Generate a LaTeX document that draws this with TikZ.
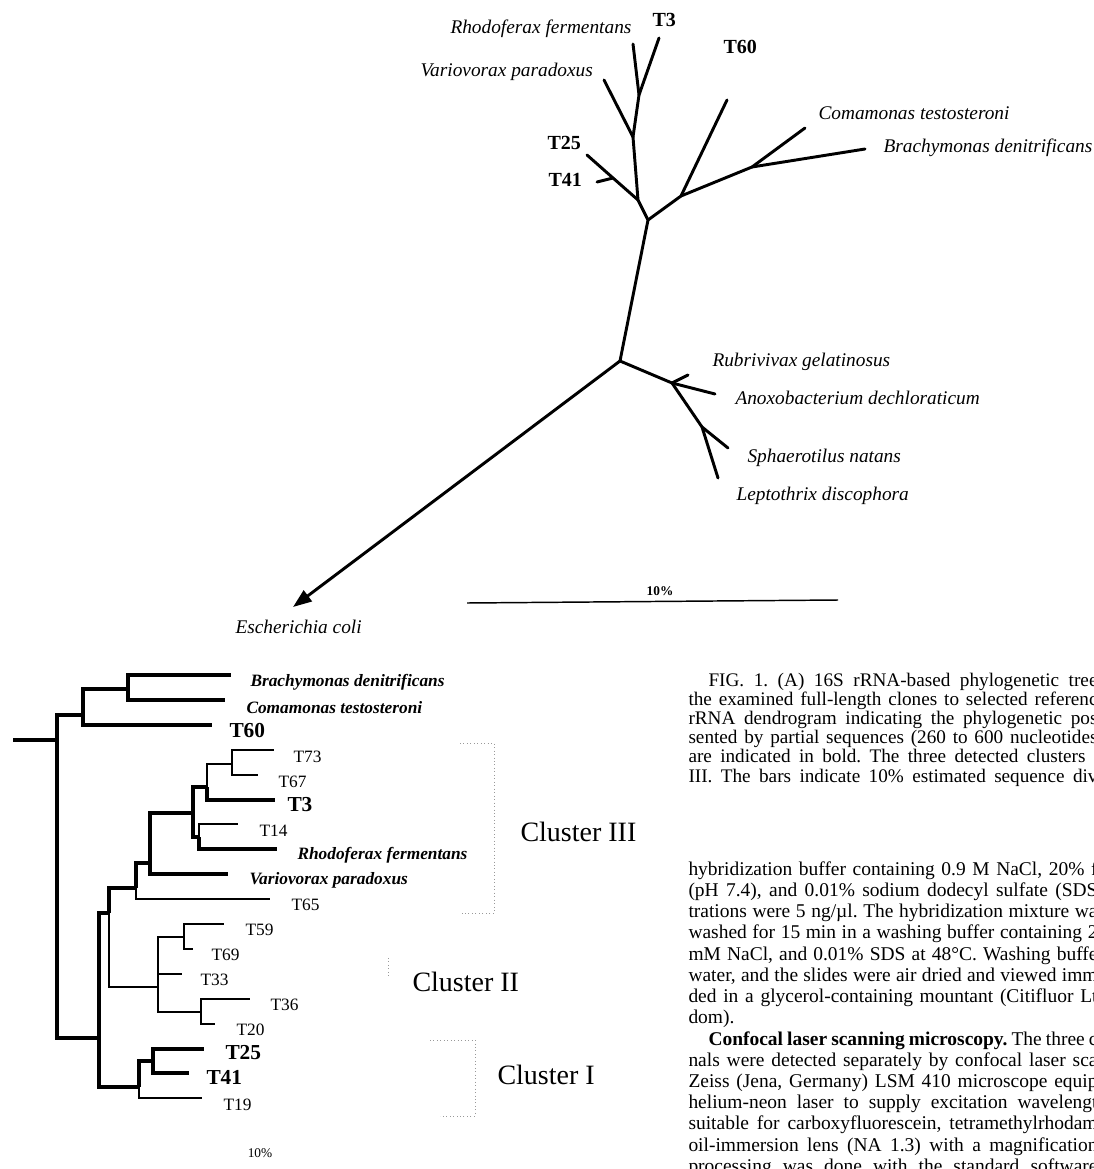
\documentclass[tikz,border=0pt]{standalone}
\usepackage{fontspec}
\setmainfont{Liberation Serif}
\usetikzlibrary{arrows.meta}

\tikzset{every picture/.style={line width=0.75pt}}
\tikzset{
  treeedge/.style={line width=2.2pt,line cap=round,line join=round},
  heavy/.style={line width=2.6pt},
  fine/.style={line width=0.8pt},
  medium/.style={line width=1.4pt},
  taxon/.style={inner sep=0pt,anchor=west,font=\fontsize{14.5}{17}\selectfont\itshape},
  clonelbl/.style={inner sep=0pt,anchor=west,font=\fontsize{15}{18}\selectfont\bfseries},
  reftaxon/.style={inner sep=0pt,anchor=west,font=\fontsize{13}{15}\selectfont\bfseries\itshape},
  seqlbl/.style={inner sep=0pt,anchor=west,font=\fontsize{13}{15}\selectfont},
  boldseq/.style={inner sep=0pt,anchor=west,font=\fontsize{16}{19}\selectfont\bfseries},
  clusterlbl/.style={inner sep=0pt,anchor=west,font=\fontsize{21}{25}\selectfont},
  bracket/.style={dash pattern=on 0.6pt off 2pt,line width=0.6pt,draw=black!40},
  capline/.style={inner sep=0pt,anchor=base west,font=\fontsize{14.4}{17}\selectfont\frenchspacing},
  textline/.style={inner sep=0pt,anchor=base west,font=\fontsize{14.6}{18}\selectfont\frenchspacing},
}
\newcommand{\fitline}[2]{\makebox[#1][s]{#2}}

\begin{document}
\begin{tikzpicture}[x=0.75pt,y=0.75pt,yscale=-1,xscale=1]
\useasboundingbox (0,0) rectangle (1093,1169);

%Unrooted tree: inner points
\coordinate (rootA) at (620,361);
\coordinate (nB) at (648,220);
\coordinate (nE) at (638,200);
\coordinate (nF) at (633,137);
\coordinate (nG) at (639,95);
\coordinate (nH) at (613,178);
\coordinate (nI) at (681,196);
\coordinate (nJ) at (752,167);
\coordinate (nC) at (672,383);
\coordinate (nD) at (702,427);
%Unrooted tree: tips
\coordinate (tRho) at (633,44);
\coordinate (tT3) at (659,38);
\coordinate (tVar) at (604,80);
\coordinate (tT25) at (587,155);
\coordinate (tT41) at (597,182);
\coordinate (tT60) at (727,100);
\coordinate (tCom) at (805,128);
\coordinate (tBra) at (865,149);
\coordinate (tRub) at (688,375);
\coordinate (tAno) at (715,394);
\coordinate (tSph) at (728,448);
\coordinate (tLep) at (718,478);
\coordinate (tEco) at (293,607);

%Straight Lines
\draw [treeedge] (rootA) -- (nB) -- (nE) -- (nF) -- (nG) -- (tRho) ;
\draw [treeedge] (nG) -- (tT3) ;
\draw [treeedge] (nF) -- (tVar) ;
\draw [treeedge] (nE) -- (nH) -- (tT25) ;
\draw [treeedge] (nH) -- (tT41) ;
\draw [treeedge] (nB) -- (nI) -- (tT60) ;
\draw [treeedge] (nI) -- (nJ) -- (tCom) ;
\draw [treeedge] (nJ) -- (tBra) ;
\draw [treeedge] (rootA) -- (nC) -- (tAno) ;
\draw [treeedge] (nC) -- (tRub) ;
\draw [treeedge] (nC) -- (nD) -- (tLep) ;
\draw [treeedge] (nD) -- (tSph) ;
%Arrow to the outgroup
\draw [treeedge,-{Triangle[length=14pt,width=10pt]}] (rootA) -- (tEco) ;

%Scale bar
\coordinate (barL) at (467,603);
\coordinate (barR) at (838,600);
\draw [line width=1.1pt] (barL) -- (barR) ;

% Text Node
\node [taxon] (lbRho) at (450,29) {Rhodoferax fermentans};
% Text Node
\node [clonelbl] (lbT3) at (652,20) {T3};
% Text Node
\node [taxon] (lbVar) at (420,72) {Variovorax paradoxus};
% Text Node
\node [clonelbl] (lbT60) at (723,47) {T60};
% Text Node
\node [taxon] (lbCom) at (818,113) {Comamonas testosteroni};
% Text Node
\node [taxon] (lbBra) at (883,148) {Brachymonas denitrificans};
% Text Node
\node [clonelbl] (lbT25) at (547,143) {T25};
% Text Node
\node [clonelbl] (lbT41) at (548,180) {T41};
% Text Node
\node [taxon] (lbRub) at (712,362) {Rubrivivax gelatinosus};
% Text Node
\node [taxon] (lbAno) at (735,398) {Anoxobacterium dechloraticum};
% Text Node
\node [taxon] (lbSph) at (747,458) {Sphaerotilus natans};
% Text Node
\node [taxon] (lbLep) at (736,496) {Leptothrix discophora};
% Text Node
\node [taxon] (lbEco) at (235,627) {Escherichia coli};
% Text Node
\node [inner sep=0pt,font=\fontsize{10}{12}\selectfont\bfseries] (barlbl) at (660,591) {10\%};

%Dendrogram: inner points
\coordinate (stub) at (13,740);
\coordinate (d0) at (57,740);
\coordinate (d1) at (83,715);
\coordinate (d2) at (128,689);
\coordinate (d3) at (99,1038);
\coordinate (d4) at (109,913);
\coordinate (d5) at (136,888);
\coordinate (d6) at (150,863);
\coordinate (d7) at (193,813);
\coordinate (d8) at (207,787);
\coordinate (d9) at (199,837);
\coordinate (d10) at (232,764);
\coordinate (d11) at (158,987);
\coordinate (d12) at (184,937);
\coordinate (d13) at (201,1012);
\coordinate (d14) at (139,1087);
\coordinate (d15) at (153,1061);
%Dendrogram: leaves
\coordinate (lBra) at (231,675);
\coordinate (lCom) at (225,700);
\coordinate (lT60) at (212,725);
\coordinate (lT73) at (274,750);
\coordinate (lT67) at (258,775);
\coordinate (lT3) at (275,800);
\coordinate (lT14) at (238,824);
\coordinate (lRho) at (277,849);
\coordinate (lVar) at (228,874);
\coordinate (lT65) at (270,899);
\coordinate (lT59) at (224,924);
\coordinate (lT69) at (193,949);
\coordinate (lT33) at (182,974);
\coordinate (lT36) at (250,999);
\coordinate (lT20) at (215,1024);
\coordinate (lT25) at (204,1049);
\coordinate (lT41) at (189,1073);
\coordinate (lT19) at (202,1098);

%Elbow Lines
\draw [heavy] (stub) -- (d0) ;
\draw [heavy] (d0) |- (d1) ;
\draw [heavy] (d0) |- (d3) ;
\draw [heavy] (d1) |- (d2) ;
\draw [heavy] (d1) |- (lT60) ;
\draw [heavy] (d2) |- (lBra) ;
\draw [heavy] (d2) |- (lCom) ;
\draw [heavy] (d3) |- (d4) ;
\draw [heavy] (d3) |- (d14) ;
\draw [heavy] (d4) |- (d5) ;
\draw [fine] (d4) |- (d11) ;
\draw [heavy] (d5) |- (d6) ;
\draw [fine] (d5) |- (lT65) ;
\draw [heavy] (d6) |- (d7) ;
\draw [heavy] (d6) |- (lVar) ;
\draw [heavy] (d7) |- (d8) ;
\draw [heavy] (d7) |- (d9) ;
\draw [fine] (d8) |- (d10) ;
\draw [heavy] (d8) |- (lT3) ;
\draw [fine] (d9) |- (lT14) ;
\draw [heavy] (d9) |- (lRho) ;
\draw [fine] (d10) |- (lT73) ;
\draw [fine] (d10) |- (lT67) ;
\draw [fine] (d11) |- (d12) ;
\draw [medium] (d11) |- (lT33) ;
\draw [fine] (d11) |- (d13) ;
\draw [fine] (d12) |- (lT59) ;
\draw [fine] (d12) |- (lT69) ;
\draw [fine] (d13) |- (lT36) ;
\draw [fine] (d13) |- (lT20) ;
\draw [heavy] (d14) |- (d15) ;
\draw [fine] (d14) |- (lT19) ;
\draw [heavy] (d15) |- (lT25) ;
\draw [heavy] (d15) |- (lT41) ;

% Text Node
\node [reftaxon] (dBra) at (250,682) {Brachymonas denitrificans};
% Text Node
\node [reftaxon] (dCom) at (246,708) {Comamonas testosteroni};
% Text Node
\node [boldseq] (dT60) at (229,731) {T60};
% Text Node
\node [seqlbl] (dT73) at (293,757) {T73};
% Text Node
\node [seqlbl] (dT67) at (278,782) {T67};
% Text Node
\node [boldseq] (dT3) at (287,805) {T3};
% Text Node
\node [seqlbl] (dT14) at (259,831) {T14};
% Text Node
\node [reftaxon] (dRho) at (297,855) {Rhodoferax fermentans};
% Text Node
\node [reftaxon] (dVar) at (249,880) {Variovorax paradoxus};
% Text Node
\node [seqlbl] (dT65) at (291,905) {T65};
% Text Node
\node [seqlbl] (dT59) at (245,930) {T59};
% Text Node
\node [seqlbl] (dT69) at (211,955) {T69};
% Text Node
\node [seqlbl] (dT33) at (200,980) {T33};
% Text Node
\node [seqlbl] (dT36) at (270,1005) {T36};
% Text Node
\node [seqlbl] (dT20) at (236,1030) {T20};
% Text Node
\node [boldseq] (dT25) at (225,1053) {T25};
% Text Node
\node [boldseq] (dT41) at (206,1077) {T41};
% Text Node
\node [seqlbl] (dT19) at (223,1105) {T19};
% Text Node
\node [inner sep=0pt,font=\fontsize{10}{12}\selectfont] (dbar) at (260,1153) {10\%};

%Cluster brackets
\draw [bracket] (460,743) -- (494,743) -- (494,913) -- (462,913) ;
\draw [bracket] (388,958) -- (388,978) ;
\draw [bracket] (430,1040) -- (475,1040) -- (475,1116) -- (440,1116) ;
% Text Node
\node [clusterlbl] (cl3) at (520,832) {Cluster III};
% Text Node
\node [clusterlbl] (cl2) at (412,982) {Cluster II};
% Text Node
\node [clusterlbl] (cl1) at (497,1075) {Cluster I};

%Caption lines
\node [capline] (cap1) at (708,686) {\fitline{291.75pt}{FIG. 1. (A) 16S rRNA-based phylogenetic tree}};
\node [capline] (cap2) at (688,705) {\fitline{306.75pt}{the examined full-length clones to selected referenc}};
\node [capline] (cap3) at (688,724) {\fitline{306.75pt}{rRNA dendrogram indicating the phylogenetic pos}};
\node [capline] (cap4) at (688,743) {\fitline{306.75pt}{sented by partial sequences (260 to 600 nucleotides}};
\node [capline] (cap5) at (688,762) {\fitline{297.75pt}{are indicated in bold. The three detected clusters}};
\node [capline] (cap6) at (688,782) {\fitline{306.75pt}{III. The bars indicate 10\% estimated sequence div}};

%Body lines
\node [textline] (txt1) at (688,875) {\fitline{306.75pt}{hybridization buffer containing 0.9 M NaCl, 20\% f}};
\node [textline] (txt2) at (688,896) {\fitline{306.75pt}{(pH 7.4), and 0.01\% sodium dodecyl sulfate (SDS}};
\node [textline] (txt3) at (688,917) {\fitline{306.75pt}{trations were 5 ng/µl. The hybridization mixture wa}};
\node [textline] (txt4) at (688,938) {\fitline{306.75pt}{washed for 15 min in a washing buffer containing 2}};
\node [textline] (txt5) at (688,960) {\fitline{306.75pt}{mM NaCl, and 0.01\% SDS at 48°C. Washing buffe}};
\node [textline] (txt6) at (688,981) {\fitline{306.75pt}{water, and the slides were air dried and viewed imm}};
\node [textline] (txt7) at (688,1002) {\fitline{306.75pt}{ded in a glycerol-containing mountant (Citifluor Lt}};
\node [textline] (txt8) at (688,1023) {dom).};
\node [textline] (txt9) at (708,1045) {\fitline{291.75pt}{\textbf{Confocal laser scanning microscopy.} The three c}};
\node [textline] (txt10) at (688,1066) {\fitline{306.75pt}{nals were detected separately by confocal laser sca}};
\node [textline] (txt11) at (688,1087) {\fitline{306.75pt}{Zeiss (Jena, Germany) LSM 410 microscope equip}};
\node [textline] (txt12) at (688,1108) {\fitline{306.75pt}{helium-neon laser to supply excitation wavelengt}};
\node [textline] (txt13) at (688,1129) {\fitline{306.75pt}{suitable for carboxyfluorescein, tetramethylrhodam}};
\node [textline] (txt14) at (688,1151) {\fitline{306.75pt}{oil-immersion lens (NA 1.3) with a magnification}};
\node [textline] (txt15) at (688,1172) {\fitline{306.75pt}{processing was done with the standard software}};

\end{tikzpicture}
\end{document}
